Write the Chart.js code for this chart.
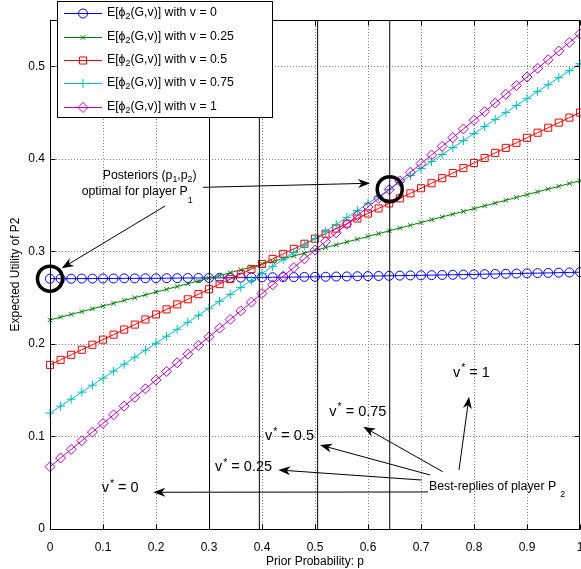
<!DOCTYPE html>
<html>
<head>
<meta charset="utf-8">
<script src="https://cdn.jsdelivr.net/npm/chart.js@4.4.1/dist/chart.umd.min.js"></script>
<style>
html,body{margin:0;padding:0;overflow:hidden;background:#fff;width:581px;height:569px}
#wrap{position:relative;width:600px;height:569px}
</style>
</head>
<body>
<div id="wrap"><canvas id="c" width="600" height="569"></canvas></div>
<script>
// ---------- data ----------
const pValues = [0,0.02,0.04,0.06,0.08,0.1,0.12,0.14,0.16,0.18,0.2,0.22,0.24,0.26,0.28,0.3,0.32,0.34,0.36,0.38,0.4,0.42,0.44,0.46,0.48,0.5,0.52,0.54,0.56,0.58,0.6,0.62,0.64,0.66,0.68,0.7,0.72,0.74,0.76,0.78,0.8,0.82,0.84,0.86,0.88,0.9,0.92,0.94,0.96,0.98,1];

const utilV0 = [0.2705,0.2705,0.2705,0.2706,0.2706,0.2707,0.2707,0.2708,0.2708,0.2709,
  0.2709,0.2710,0.2711,0.2712,0.2713,0.2713,0.2714,0.2715,0.2716,0.2717,
  0.2719,0.2720,0.2721,0.2722,0.2724,0.2725,0.2726,0.2728,0.2729,0.2731,
  0.2733,0.2734,0.2736,0.2738,0.2740,0.2741,0.2743,0.2745,0.2747,0.2749,
  0.2751,0.2754,0.2756,0.2758,0.2760,0.2763,0.2765,0.2767,0.2770,0.2772,
  0.2775];
const utilV025 = [0.2259,0.2289,0.2319,0.2349,0.2379,0.2409,0.2439,0.2470,0.2500,0.2530,
  0.2560,0.2590,0.2620,0.2650,0.2680,0.2710,0.2740,0.2770,0.2800,0.2831,
  0.2861,0.2891,0.2921,0.2951,0.2981,0.3011,0.3041,0.3071,0.3101,0.3131,
  0.3161,0.3191,0.3222,0.3252,0.3282,0.3312,0.3342,0.3372,0.3402,0.3432,
  0.3462,0.3492,0.3522,0.3552,0.3583,0.3613,0.3643,0.3673,0.3703,0.3733,
  0.3763];
const utilV05 = [0.1773,0.1828,0.1882,0.1937,0.1991,0.2046,0.2100,0.2155,0.2209,0.2264,
  0.2318,0.2373,0.2427,0.2482,0.2537,0.2591,0.2646,0.2700,0.2755,0.2809,
  0.2864,0.2918,0.2973,0.3027,0.3082,0.3137,0.3191,0.3246,0.3300,0.3355,
  0.3409,0.3464,0.3518,0.3573,0.3627,0.3682,0.3736,0.3791,0.3846,0.3900,
  0.3955,0.4009,0.4064,0.4118,0.4173,0.4227,0.4282,0.4336,0.4391,0.4445,
  0.4500];
const utilV075 = [0.1252,0.1328,0.1403,0.1479,0.1554,0.1630,0.1705,0.1781,0.1856,0.1932,
  0.2007,0.2083,0.2158,0.2234,0.2309,0.2385,0.2460,0.2536,0.2611,0.2687,
  0.2762,0.2838,0.2913,0.2989,0.3064,0.3140,0.3216,0.3291,0.3367,0.3442,
  0.3518,0.3593,0.3669,0.3744,0.3820,0.3895,0.3971,0.4046,0.4122,0.4197,
  0.4273,0.4348,0.4424,0.4499,0.4575,0.4650,0.4726,0.4801,0.4877,0.4952,
  0.5028];
const utilV1 = [0.0673,0.0767,0.0860,0.0954,0.1047,0.1141,0.1234,0.1328,0.1422,0.1515,
  0.1609,0.1702,0.1796,0.1890,0.1983,0.2077,0.2170,0.2264,0.2357,0.2451,
  0.2545,0.2638,0.2732,0.2825,0.2919,0.3013,0.3106,0.3200,0.3293,0.3387,
  0.3480,0.3574,0.3668,0.3761,0.3855,0.3948,0.4042,0.4135,0.4229,0.4323,
  0.4416,0.4510,0.4603,0.4697,0.4791,0.4884,0.4978,0.5071,0.5165,0.5258,
  0.5352];

const vLabels = ['0','0.25','0.5','0.75','1'];
const xTicks = [0,0.1,0.2,0.3,0.4,0.5,0.6,0.7,0.8,0.9,1];
const yTicks = [0,0.1,0.2,0.3,0.4,0.5];
const bestReplyThresholds = [0.301,0.395,0.505,0.641];
const optimalPosteriorP = [0,0.641];
const optimalPosteriorU = [0.2705,0.3672];

// ---------- styles ----------
const FONT = "'Liberation Sans', Arial, Helvetica, sans-serif";
const seriesStyle = [
  {color:'#0000ff', style:'circle',   r:4.5},
  {color:'#008000', style:'crossRot', r:3.2},
  {color:'#ff0000', style:'rect',     r:5},
  {color:'#00bfbf', style:'cross',    r:4.5},
  {color:'#bf00bf', style:'rectRot',  r:5}
];
const seriesData = [utilV0, utilV025, utilV05, utilV075, utilV1];

Chart.defaults.font.family = FONT;
Chart.defaults.font.size = 12;
Chart.defaults.color = '#000';

const datasets = [];
seriesData.forEach((arr, k) => {
  const st = seriesStyle[k];
  datasets.push({
    label: 'v = ' + vLabels[k],
    data: pValues.map((p, i) => ({x: p, y: arr[i]})),
    borderColor: st.color,
    borderWidth: 1,
    pointStyle: st.style,
    pointRadius: st.r,
    pointBorderColor: st.color,
    pointBackgroundColor: 'rgba(0,0,0,0)',
    pointBorderWidth: 1,
    tension: 0,
    clip: false,
    order: 10 - k
  });
});
bestReplyThresholds.forEach(t => {
  datasets.push({
    data: [{x: t, y: 0}, {x: t, y: 0.55}],
    borderColor: '#000', borderWidth: 1, pointRadius: 0, order: 1
  });
});
datasets.push({
  data: optimalPosteriorP.map((p, i) => ({x: p, y: optimalPosteriorU[i]})),
  showLine: false, pointStyle: 'circle', pointRadius: 12.5,
  pointBorderWidth: 3.5, pointBorderColor: '#000',
  pointBackgroundColor: 'rgba(0,0,0,0)', clip: false, order: 0
});

// ---------- drawing helpers ----------
function drawRich(ctx, parts, x, y, size) {
  let cx = x;
  ctx.textAlign = 'left';
  ctx.textBaseline = 'middle';
  for (const pt of parts) {
    const small = pt.sub || pt.sup;
    const s = small ? size * 0.72 : size;
    ctx.font = s + 'px ' + FONT;
    cx += pt.dx || 0;
    let dy = 0;
    if (pt.sub) dy = pt.dy != null ? pt.dy : size * 0.4;
    if (pt.sup) dy = pt.dy != null ? pt.dy : -size * 0.3;
    ctx.fillText(pt.t, cx, y + dy);
    cx += ctx.measureText(pt.t).width;
  }
}
function drawArrow(ctx, x1, y1, x2, y2) {
  const dx = x2 - x1, dy = y2 - y1, L = Math.hypot(dx, dy);
  const ux = dx / L, uy = dy / L, nx = -uy, ny = ux;
  const hl = 12, hw = 4.5, notch = 3.5;
  ctx.beginPath();
  ctx.moveTo(x1, y1);
  ctx.lineTo(x2 - ux * (hl - notch), y2 - uy * (hl - notch));
  ctx.stroke();
  ctx.beginPath();
  ctx.moveTo(x2, y2);
  ctx.lineTo(x2 - ux * hl + nx * hw, y2 - uy * hl + ny * hw);
  ctx.lineTo(x2 - ux * (hl - notch), y2 - uy * (hl - notch));
  ctx.lineTo(x2 - ux * hl - nx * hw, y2 - uy * hl - ny * hw);
  ctx.closePath();
  ctx.fill();
}
function drawMarker(ctx, style, x, y, r) {
  ctx.beginPath();
  if (style === 'circle') { ctx.arc(x, y, r, 0, Math.PI * 2); }
  else if (style === 'rect') { const s = r * Math.SQRT1_2; ctx.rect(x - s, y - s, 2 * s, 2 * s); }
  else if (style === 'rectRot') { ctx.moveTo(x, y - r); ctx.lineTo(x + r, y); ctx.lineTo(x, y + r); ctx.lineTo(x - r, y); ctx.closePath(); }
  else if (style === 'cross') { ctx.moveTo(x - r, y); ctx.lineTo(x + r, y); ctx.moveTo(x, y - r); ctx.lineTo(x, y + r); }
  else if (style === 'crossRot') { const s = r * Math.SQRT1_2 * 1.0; ctx.moveTo(x - s, y - s); ctx.lineTo(x + s, y + s); ctx.moveTo(x - s, y + s); ctx.lineTo(x + s, y - s); }
  ctx.stroke();
}

// annotations in data coordinates
const annotationTexts = [
  {p:0.0994, u:0.3814, size:12.3, parts:[{t:'Posteriors (p'},{t:'1',sub:true,dy:4},{t:',p'},{t:'2',sub:true,dy:4},{t:')'}]},
  {p:0.0598, u:0.3642, size:12.3, parts:[{t:'optimal for player P'},{t:'1',sub:true,dy:9}]},
  {p:0.7604, u:0.1686, size:14.5, parts:[{t:'v'},{t:'*',sup:true,dx:1},{t:' = 1'}]},
  {p:0.5270, u:0.1268, size:14.5, parts:[{t:'v'},{t:'*',sup:true,dx:1},{t:' = 0.75'}]},
  {p:0.4057, u:0.1005, size:14.5, parts:[{t:'v'},{t:'*',sup:true,dx:1},{t:' = 0.5'}]},
  {p:0.3113, u:0.0667, size:14.5, parts:[{t:'v'},{t:'*',sup:true,dx:1},{t:' = 0.25'}]},
  {p:0.0975, u:0.0440, size:14.5, parts:[{t:'v'},{t:'*',sup:true,dx:1},{t:' = 0'}]},
  {p:0.7151, u:0.0454, size:12.3, parts:[{t:'Best-replies of player P'},{t:'2',sub:true,dy:8,dx:4}]}
];
const annotationArrows = [
  {p1:0.2887, u1:0.3692, p2:0.6038, u2:0.3736},
  {p1:0.2170, u1:0.3490, p2:0.0221, u2:0.2817},
  {p1:0.7717, u1:0.0638, p2:0.7906, u2:0.1430},
  {p1:0.7410, u1:0.0619, p2:0.5911, u2:0.1105},
  {p1:0.7170, u1:0.0584, p2:0.5094, u2:0.0908},
  {p1:0.7013, u1:0.0529, p2:0.4308, u2:0.0638},
  {p1:0.7132, u1:0.0400, p2:0.1949, u2:0.0397}
];

const axesPlugin = {
  id: 'matlabAxes',
  beforeDatasetsDraw(chart) {
    const {ctx, chartArea: ca, scales: {x, y}} = chart;
    const al = v => Math.round(v) + 0.5;
    ctx.save();
    ctx.strokeStyle = '#808080';
    ctx.lineWidth = 1;
    ctx.setLineDash([1, 2]);
    xTicks.forEach(t => {
      if (t === 0 || t === 1) return;
      const px = al(x.getPixelForValue(t));
      ctx.beginPath(); ctx.moveTo(px, ca.top); ctx.lineTo(px, ca.bottom); ctx.stroke();
    });
    yTicks.forEach(t => {
      if (t === 0) return;
      const py = al(y.getPixelForValue(t));
      ctx.beginPath(); ctx.moveTo(ca.left, py); ctx.lineTo(ca.right, py); ctx.stroke();
    });
    ctx.restore();
  },
  afterDatasetsDraw(chart) {
    const {ctx, chartArea: ca, scales: {x, y}} = chart;
    const al = v => Math.round(v) + 0.5;
    ctx.save();
    ctx.strokeStyle = '#000';
    ctx.lineWidth = 1;
    const L = al(ca.left), R = al(ca.right) - 1, T = al(ca.top), B = al(ca.bottom);
    ctx.strokeRect(L, T, R - L, B - T);
    const tl = 5;
    ctx.beginPath();
    xTicks.forEach(t => {
      const px = al(x.getPixelForValue(t));
      ctx.moveTo(px, B); ctx.lineTo(px, B - tl);
      ctx.moveTo(px, T); ctx.lineTo(px, T + tl);
    });
    yTicks.forEach(t => {
      const py = al(y.getPixelForValue(t));
      ctx.moveTo(L, py); ctx.lineTo(L + tl, py);
      ctx.moveTo(R, py); ctx.lineTo(R - tl, py);
    });
    ctx.stroke();

    // annotations
    ctx.fillStyle = '#000';
    ctx.strokeStyle = '#000';
    annotationArrows.forEach(a => {
      drawArrow(ctx, x.getPixelForValue(a.p1), y.getPixelForValue(a.u1),
                     x.getPixelForValue(a.p2), y.getPixelForValue(a.u2));
    });
    annotationTexts.forEach(a => {
      drawRich(ctx, a.parts, x.getPixelForValue(a.p), y.getPixelForValue(a.u), a.size);
    });

    // legend box (MATLAB style, overlapping top of axes)
    const bx = Math.round(ca.left + 7) + 0.5, by = 1.5, bw = 215, bh = 116;
    ctx.fillStyle = '#fff';
    ctx.fillRect(bx, by, bw, bh);
    ctx.strokeStyle = '#000';
    ctx.strokeRect(bx, by, bw, bh);
    for (let k = 0; k < 5; k++) {
      const st = seriesStyle[k];
      const cy = Math.round(ca.top - 6.7 + k * 23.35) + 0.5;
      ctx.strokeStyle = st.color;
      ctx.lineWidth = 1;
      ctx.beginPath();
      ctx.moveTo(ca.left + 14, cy); ctx.lineTo(ca.left + 52, cy);
      ctx.stroke();
      drawMarker(ctx, st.style, ca.left + 33, cy, st.r);
      ctx.fillStyle = '#000';
      drawRich(ctx, [{t:'E[\u03D5'},{t:'2',sub:true,dy:4.5},{t:'(G,v)] with v = ' + vLabels[k]}], ca.left + 57, cy - 1, 12.3);
    }
    ctx.restore();
  }
};

new Chart(document.getElementById('c'), {
  type: 'line',
  data: {datasets},
  options: {
    responsive: false,
    animation: false,
    events: [],
    layout: {padding: {left: 0, top: 20, right: 20, bottom: 0}},
    plugins: {legend: {display: false}, tooltip: {enabled: false}},
    scales: {
      x: {
        type: 'linear', min: 0, max: 1,
        grid: {display: false, drawTicks: false},
        border: {display: false},
        afterBuildTicks: s => { s.ticks = xTicks.map(v => ({value: v})); },
        afterFit: s => { s.height = 40; },
        ticks: {padding: 11, color: '#000', font: {size: 12}, callback: v => String(v), maxRotation: 0, autoSkip: false},
        title: {display: true, text: 'Prior Probability: p', color: '#000', font: {size: 12}, padding: {top: 0, bottom: 0}}
      },
      y: {
        type: 'linear', min: 0, max: 0.55,
        grid: {display: false, drawTicks: false},
        border: {display: false},
        afterBuildTicks: s => { s.ticks = yTicks.map(v => ({value: v})); },
        afterFit: s => { s.width = 50; },
        ticks: {padding: 5, color: '#000', font: {size: 12}, callback: v => String(v), autoSkip: false},
        title: {display: true, text: 'Expected Utility of P2', color: '#000', font: {size: 12}, padding: {top: 8, bottom: 0}}
      }
    }
  },
  plugins: [axesPlugin]
});
</script>
</body>
</html>
